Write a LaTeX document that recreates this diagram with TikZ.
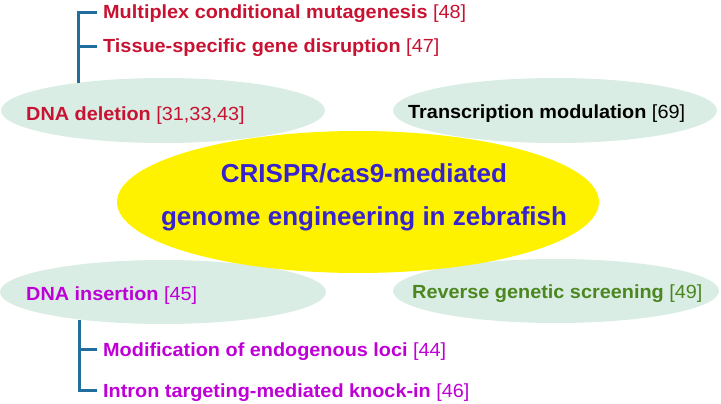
\documentclass[tikz,border=0pt]{standalone}
\usepackage{fontspec}
\setmainfont{Liberation Sans}
\newfontfamily\labfont{Liberation Sans}[FakeStretch=1.045]
\usetikzlibrary{shapes.geometric}
\definecolor{tealfill}{RGB}{217,237,228}
\definecolor{yelfill}{RGB}{255,242,0}
\definecolor{redtxt}{RGB}{200,18,50}
\definecolor{magtxt}{RGB}{190,0,215}
\definecolor{grntxt}{RGB}{75,135,30}
\definecolor{bluetxt}{RGB}{55,35,205}
\definecolor{brk}{RGB}{31,110,158}
\tikzset{
  oval/.style={ellipse, fill=tealfill, draw=none, inner sep=0pt},
  lab/.style={anchor=base west, inner sep=0pt, text height=13.5pt, text depth=0pt,
    font=\labfont\fontsize{19}{19}\selectfont},
  bracket/.style={draw=brk, line width=3pt},
}
\begin{document}
\begin{tikzpicture}[x=1pt,y=-1pt]
\useasboundingbox (0,0) rectangle (721,404);
% ellipses
\node[oval, minimum width=324pt, minimum height=65pt] (ovdel) at (163,110.5) {};
\node[oval, minimum width=324pt, minimum height=65pt] (ovtra) at (555,110.5) {};
\node[oval, minimum width=326pt, minimum height=64pt] (ovins) at (163,292) {};
\node[oval, minimum width=326pt, minimum height=64pt] (ovrev) at (556,291) {};
\node[ellipse, fill=yelfill, inner sep=0pt, minimum width=482pt, minimum height=142pt] (core) at (358,202) {};
% centre text
\node[anchor=base, inner sep=0pt, text=bluetxt, font=\fontsize{26}{26}\selectfont\bfseries] (t1) at (364,182) {CRISPR/cas9-mediated};
\node[anchor=base, inner sep=0pt, text=bluetxt, font=\fontsize{26}{26}\selectfont\bfseries] (t2) at (364,225) {genome engineering in zebrafish};
% labels
\node[lab, text=redtxt] (ma) at (103,19) {\textbf{Multiplex conditional mutagenesis} [48]};
\node[lab, text=redtxt] (ts) at (103,53) {\textbf{Tissue-specific gene disruption} [47]};
\node[lab, text=redtxt] (dd) at (26,121) {\textbf{DNA deletion} [31,33,43]};
\node[lab, text=black] (tm) at (408,118) {\textbf{Transcription modulation} [69]};
\node[lab, text=magtxt] (di) at (26,300) {\textbf{DNA insertion} [45]};
\node[lab, text=grntxt] (rg) at (412,298) {\textbf{Reverse genetic screening} [49]};
\node[lab, text=magtxt] (mo) at (103,356) {\textbf{Modification of endogenous loci} [44]};
\node[lab, text=magtxt] (it) at (103,397) {\textbf{Intron targeting-mediated knock-in} [46]};
% brackets
\coordinate (b1) at (78,83);
\coordinate (b2) at (79,320);
\draw[bracket] ([xshift=-6pt]ma.west) -| (b1);
\draw[bracket] ([xshift=-6pt]ts.west) -- (ts.west -| b1);
\draw[bracket] ([xshift=-6pt]it.west) -| (b2);
\draw[bracket] ([xshift=-6pt]mo.west) -- (mo.west -| b2);
\end{tikzpicture}
\end{document}
